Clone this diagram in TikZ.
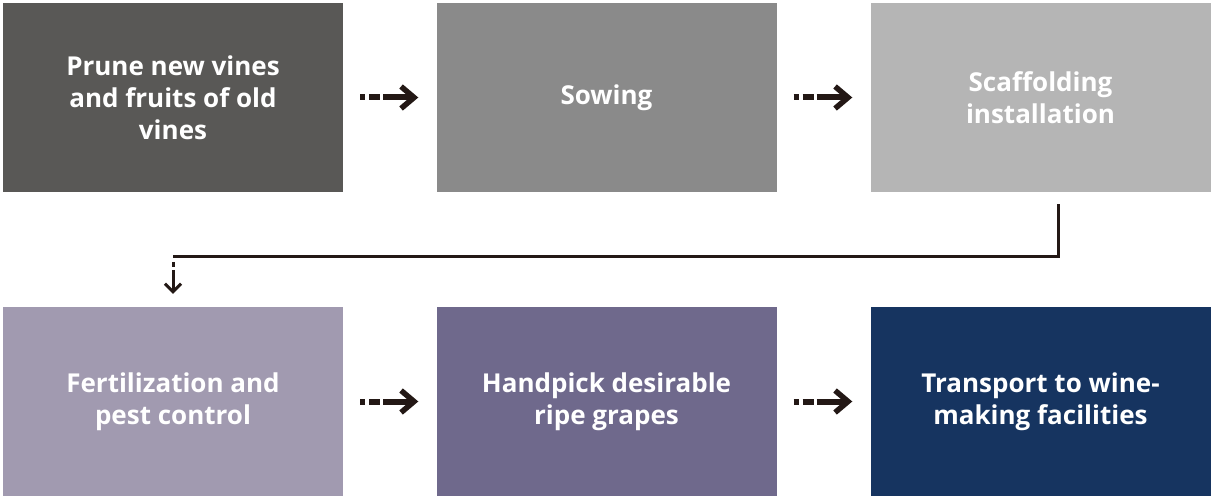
\documentclass[tikz,border=0pt]{standalone}
\usepackage{fontspec}
\setmainfont{Open Sans}
\usetikzlibrary{arrows.meta}
\definecolor{boxA}{HTML}{595856}
\definecolor{boxB}{HTML}{8A8A8A}
\definecolor{boxC}{HTML}{B5B5B5}
\definecolor{boxD}{HTML}{A19AB0}
\definecolor{boxE}{HTML}{6F698C}
\definecolor{boxF}{HTML}{163460}
\definecolor{ink}{HTML}{231815}
\tikzset{
  stepbox/.style={rectangle, minimum width=340pt, minimum height=189pt, inner sep=0pt,
    text=white, align=center, font=\fontsize{26}{32}\selectfont\bfseries},
  flowarrow/.style={draw=ink, line width=6pt, dash pattern=on 5pt off 4pt on 11pt off 3pt on 80pt off 0pt,
    -{Straight Barb[length=13pt, width=22pt, line width=5.5pt]}},
  linkline/.style={draw=ink, line width=3pt, miter limit=10},
  downarrow/.style={draw=ink, line width=3pt, dash pattern=on 5pt off 3pt on 60pt off 0pt,
    -{Straight Barb[length=8pt, width=16pt, line width=3pt]}}
}
\begin{document}
\begin{tikzpicture}[x=1pt,y=-1pt]
\useasboundingbox (0,0) rectangle (1212,497);
\node[stepbox, fill=boxA] (a) at (173,97.5) {Prune new vines\\and fruits of old\\vines};
\node[stepbox, fill=boxB] (b) at (606.5,97.5) {Sowing};
\node[stepbox, fill=boxC] (c) at (1040.5,97.5) {Scaffolding\\installation};
\node[stepbox, fill=boxD] (d) at (173,401.5) {Fertilization and\\pest control};
\node[stepbox, fill=boxE] (e) at (606.5,401.5) {Handpick desirable\\ripe grapes};
\node[stepbox, fill=boxF] (f) at (1040.5,401.5) {Transport to wine-\\making facilities};
\draw[flowarrow] ([xshift=17pt]a.east) -- ([xshift=-18pt]b.west);
\draw[flowarrow] ([xshift=17pt]b.east) -- ([xshift=-18pt]c.west);
\draw[flowarrow] ([xshift=17pt]d.east) -- ([xshift=-18pt]e.west);
\draw[flowarrow] ([xshift=17pt]e.east) -- ([xshift=-18pt]f.west);
\draw[linkline] ([xshift=18pt,yshift=-12pt]c.south) |- ([yshift=50pt]d.north);
\draw[downarrow] ([yshift=45pt]d.north) -- ([yshift=13pt]d.north);
\end{tikzpicture}
\end{document}
